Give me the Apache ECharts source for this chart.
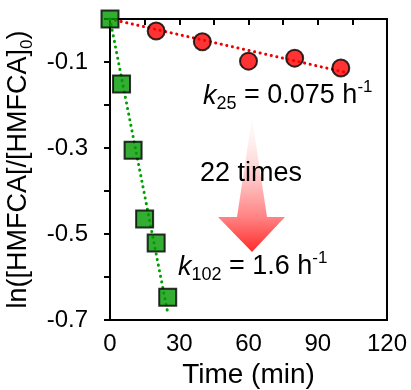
<!DOCTYPE html>
<html>
<head>
<meta charset="utf-8">
<script src="https://cdn.jsdelivr.net/npm/echarts@6/dist/echarts.min.js"></script>
<style>html,body{margin:0;padding:0;background:#fff}#c{width:411px;height:390px}</style>
</head>
<body>
<div id="c"></div>
<script>
// Data
var redTime = [20, 40, 60, 80, 100];
var redValues = [-0.028, -0.053, -0.098, -0.091, -0.114];
var greenTime = [0, 5, 10, 15, 20, 25];
var greenValues = [0, -0.151, -0.305, -0.465, -0.521, -0.647];
var redFitTime = [0, 102];
var redFitValues = [0, -0.124];
var greenFitTime = [0, 25];
var greenFitValues = [0, -0.683];
var xTickLabels = [0, 30, 60, 90, 120];
var yTickLabels = [-0.1, -0.3, -0.5, -0.7];

function pairs(xs, ys) { return xs.map(function (x, i) { return [x, ys[i]]; }); }

var FONT = "'Liberation Sans', Arial, sans-serif";
var chart = echarts.init(document.getElementById('c'), null, {renderer: 'canvas'});

var dotted = {width: 3, type: [0.1, 5.6], cap: 'round'};
var richK = {
  k: {fontSize: 27, fontStyle: 'italic', fontFamily: FONT, lineHeight: 34, verticalAlign: 'middle'},
  s: {fontSize: 18, fontFamily: FONT, lineHeight: 18, verticalAlign: 'bottom'},
  m: {fontSize: 27, fontFamily: FONT, lineHeight: 34, verticalAlign: 'middle'},
  p: {fontSize: 17, fontFamily: FONT, lineHeight: 17, verticalAlign: 'top'}
};

chart.setOption({
  animation: false,
  backgroundColor: '#fff',
  grid: {left: 110, right: 24, top: 19, bottom: 70, outerBoundsMode: 'none', containLabel: false,
    show: true, borderColor: '#000', borderWidth: 2, backgroundColor: 'transparent'},
  xAxis: {
    type: 'value', min: 0, max: 120, interval: 15,
    axisLine: {show: true, lineStyle: {color: '#000', width: 2}},
    axisTick: {show: true, length: 6, lineStyle: {color: '#000', width: 2}},
    splitLine: {show: false},
    axisLabel: {
      margin: 12, color: '#000', fontSize: 24, fontFamily: FONT,
      formatter: function (v) { return xTickLabels.indexOf(v) >= 0 ? String(v) : ''; }
    },
    name: 'Time (min)', nameLocation: 'middle', nameGap: 41,
    nameTextStyle: {color: '#000', fontSize: 28, fontFamily: FONT}
  },
  yAxis: {
    type: 'value', min: -0.7, max: 0, interval: 0.1,
    axisLine: {show: true, onZero: false, lineStyle: {color: '#000', width: 2}},
    axisTick: {show: true, length: 6, lineStyle: {color: '#000', width: 2}},
    splitLine: {show: false},
    axisLabel: {
      margin: 22, color: '#000', fontSize: 24, fontFamily: FONT,
      formatter: function (v) {
        var r = Math.round(v * 10) / 10;
        for (var i = 0; i < yTickLabels.length; i++) if (Math.abs(yTickLabels[i] - r) < 1e-9) return r.toFixed(1);
        return '';
      }
    },
    name: 'ln([HMFCA[/[HMFCA]{s|0})', nameLocation: 'middle', nameGap: 57, nameRotate: 90,
    nameTextStyle: {
      color: '#000', fontSize: 27, fontFamily: FONT, lineHeight: 34, verticalAlign: 'bottom',
      rich: {s: {fontSize: 17, lineHeight: 17, verticalAlign: 'bottom', fontFamily: FONT, color: '#000'}}
    }
  },
  series: [
    {type: 'line', data: pairs(redFitTime, redFitValues), symbol: 'none', lineStyle: Object.assign({color: '#ee0000'}, dotted), z: 2},
    {type: 'line', data: pairs(greenFitTime, greenFitValues), symbol: 'none', lineStyle: Object.assign({color: '#00a000'}, dotted), z: 2},
    {type: 'scatter', data: pairs(redTime, redValues), symbol: 'circle', symbolSize: 17,
      itemStyle: {color: '#ff0000', borderColor: '#000', borderWidth: 2}, z: 5},
    {type: 'scatter', data: pairs(greenTime, greenValues), symbol: 'rect', symbolSize: 17,
      itemStyle: {color: '#009a00', borderColor: '#000', borderWidth: 2}, z: 6}
  ],
  graphic: [
    {type: 'polygon', z: 10,
      shape: {points: [[252, 118], [267, 217], [285, 217], [252, 252], [218, 217], [237, 217]]},
      style: {fill: new echarts.graphic.LinearGradient(0, 0, 0, 1, [
        {offset: 0, color: 'rgba(255,240,240,0.2)'},
        {offset: 0.55, color: '#ffb0b0'},
        {offset: 0.75, color: '#ff8080'},
        {offset: 1, color: '#ff2a2a'}])}},
    {type: 'text', z: 20, x: 203, y: 79,
      style: {text: '{k|k}{s|25}{m| = 0.075 h}{p|-1}', verticalAlign: 'top', fill: '#000', rich: richK}},
    {type: 'text', z: 20, x: 200, y: 160,
      style: {text: '22 times', fill: '#000', font: '27px ' + FONT, verticalAlign: 'top'}},
    {type: 'text', z: 20, x: 178, y: 250,
      style: {text: '{k|k}{s|102}{m| = 1.6 h}{p|-1}', verticalAlign: 'top', fill: '#000', rich: richK}}
  ]
});
</script>
</body>
</html>
